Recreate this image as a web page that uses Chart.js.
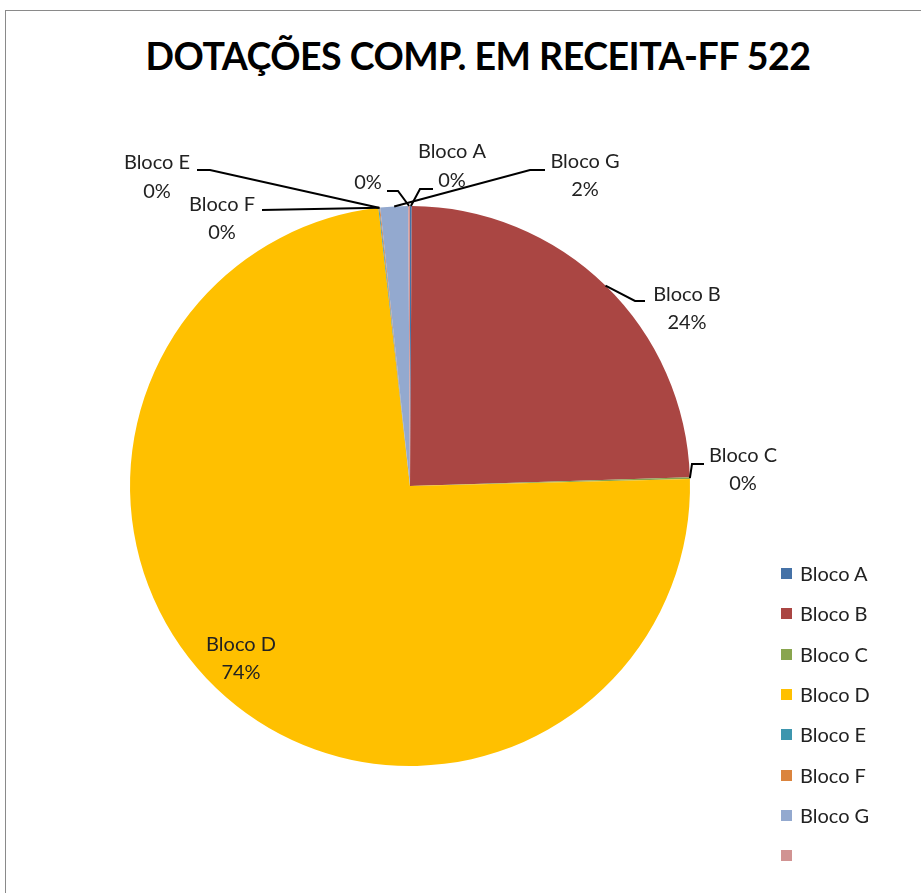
<!DOCTYPE html>
<html>
<head>
<meta charset="utf-8">
<script src="https://cdn.jsdelivr.net/npm/chart.js@4.4.1/dist/chart.umd.min.js"></script>
<style>
  html, body { margin: 0; padding: 0; background: #fff; }
  #wrap { position: relative; width: 921px; height: 893px; overflow: hidden; font-family: Lato, "Open Sans", sans-serif; }
  #frame { position: absolute; left: 5px; top: 10px; width: 940px; height: 900px; border-left: 1px solid #8a8a8a; border-top: 1px solid #8a8a8a; }
  #title { position: absolute; left: 0; top: 33px; width: 956px; text-align: center; font-weight: bold; font-size: 37.5px; color: #000; letter-spacing: -0.5px; }
  #pie { position: absolute; left: 0; top: 0; }
  .leg { position: absolute; left: 781px; font-size: 20px; color: #222; height: 20px; line-height: 20px; }
  .leg span.box { position: absolute; left: 0; top: 5px; width: 11px; height: 11px; }
  .leg span.txt { position: absolute; left: 19px; top: 0; white-space: nowrap; }
</style>
</head>
<body>
<div id="wrap">
  <div id="frame"></div>
  <div id="title">DOTAÇÕES COMP. EM RECEITA-FF 522</div>
  <canvas id="pie" width="921" height="893"></canvas>
  <div id="legend"></div>
</div>
<script>
// chart data
const categories = ["Bloco A", "Bloco B", "Bloco C", "Bloco D", "Bloco E", "Bloco F", "Bloco G", ""];
const shares = [0.1, 24.4, 0.1, 73.6, 0.05, 0.05, 1.6, 0.1];
const colors = ["#4572A7", "#AA4643", "#89A54E", "#FFC000", "#3D96AE", "#DB843D", "#93A9CF", "#D19392"];

// label layout, offsets from pie centre: text x, name y, pct y, elbow, end of leader
const labelLayout = [
  { tx: 42, ny: -334, py: -305, elbow: [10, -297], end: [23, -297] },
  { tx: 277, ny: -191, py: -163, elbow: [225, -185], end: [235, -185] },
  { tx: 333, ny: -30, py: -2, elbow: [282, -22], end: [294, -22] },
  { tx: -169, ny: 159, py: 187, elbow: null, end: null },
  { tx: -253, ny: -323, py: -294, elbow: [-200, -316], end: [-213, -316] },
  { tx: -188, ny: -281, py: -253, elbow: [-148, -276], end: [-148, -276] },
  { tx: 175, ny: -324, py: -296, elbow: [120, -316], end: [135, -316] },
  { tx: -42, ny: null, py: -303, elbow: [-12, -295], end: [-23, -295] },
];

const total = shares.reduce((a, b) => a + b, 0);
const pctText = v => Math.round(v / total * 100) + "%";

const pieLabels = {
  id: "pieLabels",
  afterDatasetsDraw(chart) {
    const ctx = chart.ctx;
    const arcs = chart.getDatasetMeta(0).data;
    ctx.save();
    ctx.font = "20px Lato, 'Open Sans', sans-serif";
    ctx.textAlign = "center";
    ctx.textBaseline = "middle";
    arcs.forEach((arc, i) => {
      const L = labelLayout[i];
      const cx = arc.x, cy = arc.y;
      const mid = (arc.startAngle + arc.endAngle) / 2;
      const ax = cx + Math.cos(mid) * arc.outerRadius;
      const ay = cy + Math.sin(mid) * arc.outerRadius;
      if (L.elbow) {
        ctx.strokeStyle = "#000";
        ctx.lineWidth = 2;
        ctx.beginPath();
        ctx.moveTo(ax, ay);
        ctx.lineTo(cx + L.elbow[0], cy + L.elbow[1]);
        ctx.lineTo(cx + L.end[0], cy + L.end[1]);
        ctx.stroke();
      }
      ctx.fillStyle = "#222";
      if (L.ny !== null && categories[i]) ctx.fillText(categories[i], cx + L.tx, cy + L.ny);
      ctx.fillText(pctText(shares[i]), cx + L.tx, cy + L.py);
    });
    ctx.restore();
  }
};

new Chart(document.getElementById("pie"), {
  type: "pie",
  data: {
    labels: categories,
    datasets: [{
      data: shares,
      backgroundColor: colors,
      borderWidth: 0,
    }],
  },
  options: {
    responsive: false,
    animation: false,
    layout: { padding: { left: 130, right: 231, top: 206, bottom: 127 } },
    plugins: {
      legend: { display: false },
      tooltip: { enabled: false },
      title: { display: false },
    },
  },
  plugins: [pieLabels],
});

// legend
const legendEl = document.getElementById("legend");
categories.forEach((name, i) => {
  const row = document.createElement("div");
  row.className = "leg";
  row.style.top = (563 + i * 40.3) + "px";
  row.innerHTML = '<span class="box" style="background:' + colors[i] + '"></span><span class="txt">' + name + '</span>';
  legendEl.appendChild(row);
});
</script>
</body>
</html>
